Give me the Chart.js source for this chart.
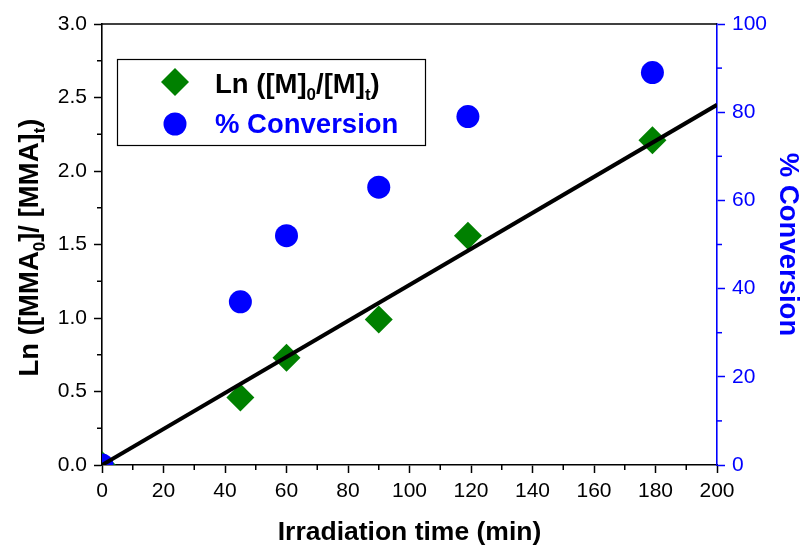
<!DOCTYPE html>
<html>
<head>
<meta charset="utf-8">
<script src="https://cdn.jsdelivr.net/npm/chart.js@4/dist/chart.umd.min.js"></script>
<style>
html,body{margin:0;padding:0;background:#fff;}
#wrap{width:807px;height:547px;}
</style>
</head>
<body>
<div id="wrap"><canvas id="c" width="807" height="547"></canvas></div>
<script>
// ---- data ----
const timeMin = [0, 45, 60, 90, 119, 179];
const lnRatio = [0, 0.46, 0.73, 0.99, 1.56, 2.21];
const conversionPct = [0, 37, 52, 63, 79, 89];
const fitTime = [0, 200];
const fitLn = [0, 2.45];
const xTicks = [0, 20, 40, 60, 80, 100, 120, 140, 160, 180, 200];
const yTicks = [0, 0.5, 1.0, 1.5, 2.0, 2.5, 3.0];
const y2Ticks = [0, 20, 40, 60, 80, 100];

const FONT = "'Liberation Sans', Arial, sans-serif";
const GREEN = '#008000';
const BLUE = '#0000FF';

function drawRich(ctx, parts, x, y, size, color, align) {
  const subSize = Math.round(size * 0.62);
  let total = 0;
  parts.forEach(p => {
    ctx.font = 'bold ' + (p[1] ? subSize : size) + 'px ' + FONT;
    total += ctx.measureText(p[0]).width;
  });
  let cx = align === 'center' ? x - total / 2 : x;
  ctx.fillStyle = color;
  ctx.textBaseline = 'alphabetic';
  ctx.textAlign = 'left';
  parts.forEach(p => {
    ctx.font = 'bold ' + (p[1] ? subSize : size) + 'px ' + FONT;
    ctx.fillText(p[0], cx, y + (p[1] ? size * 0.25 : 0));
    cx += ctx.measureText(p[0]).width;
  });
}

const decorPlugin = {
  id: 'decor',
  afterDraw(chart) {
    const ctx = chart.ctx;
    const a = chart.chartArea;
    const sx = chart.scales.x, sy = chart.scales.y, sy2 = chart.scales.y2;
    ctx.save();
    ctx.strokeStyle = '#000';
    ctx.lineWidth = 1.6;
    ctx.beginPath();
    ctx.moveTo(a.left, a.top);
    ctx.lineTo(a.right, a.top);
    ctx.stroke();
    ctx.lineWidth = 1.5;
    for (let i = 0; i < xTicks.length - 1; i++) {
      const v = (xTicks[i] + xTicks[i + 1]) / 2;
      const px = sx.getPixelForValue(v);
      ctx.beginPath(); ctx.moveTo(px, a.bottom); ctx.lineTo(px, a.bottom + 5); ctx.stroke();
    }
    for (let i = 0; i < yTicks.length - 1; i++) {
      const v = (yTicks[i] + yTicks[i + 1]) / 2;
      const py = sy.getPixelForValue(v);
      ctx.beginPath(); ctx.moveTo(a.left, py); ctx.lineTo(a.left - 5, py); ctx.stroke();
    }
    ctx.strokeStyle = BLUE;
    for (let i = 0; i < y2Ticks.length - 1; i++) {
      const v = (y2Ticks[i] + y2Ticks[i + 1]) / 2;
      const py = sy2.getPixelForValue(v);
      ctx.beginPath(); ctx.moveTo(a.right, py); ctx.lineTo(a.right + 5, py); ctx.stroke();
    }
    const midY = (a.top + a.bottom) / 2;
    drawRich(ctx, [['Irradiation time (min)', false]], (a.left + a.right) / 2, 540, 26.5, '#000', 'center');
    ctx.save();
    ctx.translate(38, midY + 3);
    ctx.rotate(-Math.PI / 2);
    drawRich(ctx, [['Ln ([MMA', false], ['0', true], [']/ [MMA]', false], ['t', true], [')', false]], 0, 0, 27.5, '#000', 'center');
    ctx.restore();
    ctx.save();
    ctx.translate(780, midY);
    ctx.rotate(Math.PI / 2);
    drawRich(ctx, [['% Conversion', false]], 0, 0, 27.5, BLUE, 'center');
    ctx.restore();
    // legend
    ctx.fillStyle = '#fff';
    ctx.fillRect(117, 59, 309, 87);
    ctx.strokeStyle = '#000';
    ctx.lineWidth = 1.2;
    ctx.strokeRect(117.5, 59.5, 308, 86);
    ctx.fillStyle = GREEN;
    ctx.beginPath();
    ctx.moveTo(175, 82 - 14); ctx.lineTo(175 + 14, 82); ctx.lineTo(175, 82 + 14); ctx.lineTo(175 - 14, 82); ctx.closePath();
    ctx.fill();
    ctx.fillStyle = BLUE;
    ctx.beginPath(); ctx.arc(175, 124, 11.5, 0, Math.PI * 2); ctx.fill();
    drawRich(ctx, [['Ln ([M]', false], ['0', true], ['/[M]', false], ['t', true], [')', false]], 215, 93, 27.5, '#000', 'left');
    drawRich(ctx, [['% Conversion', false]], 215, 133, 27.5, BLUE, 'left');
    ctx.restore();
  }
};

new Chart(document.getElementById('c'), {
  type: 'scatter',
  data: {
    datasets: [
      {
        label: 'fit',
        type: 'line',
        data: fitTime.map((t, i) => ({ x: t, y: fitLn[i] })),
        borderColor: '#000',
        borderWidth: 4,
        pointRadius: 0,
        fill: false,
        yAxisID: 'y',
        order: 0,
        clip: 0
      },
      {
        label: '% Conversion',
        data: timeMin.map((t, i) => ({ x: t, y: conversionPct[i] })),
        backgroundColor: BLUE,
        borderWidth: 0,
        pointStyle: 'circle',
        pointRadius: 11.5,
        yAxisID: 'y2',
        order: 1,
        clip: 0
      },
      {
        label: 'Ln ([M]0/[M]t)',
        data: timeMin.map((t, i) => ({ x: t, y: lnRatio[i] })),
        backgroundColor: GREEN,
        borderWidth: 0,
        pointStyle: 'rectRot',
        pointRadius: 14,
        yAxisID: 'y',
        order: 2,
        clip: 0
      }
    ]
  },
  options: {
    responsive: false,
    animation: false,
    layout: { padding: { top: 24, left: 0, right: 0, bottom: 0 } },
    plugins: { legend: { display: false }, tooltip: { enabled: false } },
    scales: {
      x: {
        type: 'linear', min: 0, max: 200,
        afterBuildTicks: s => { s.ticks = xTicks.map(v => ({ value: v })); },
        afterFit: s => { s.height = 82; },
        ticks: { color: '#000', font: { family: FONT, size: 21 }, padding: 6, maxRotation: 0, autoSkip: false },
        grid: { drawOnChartArea: false, drawTicks: true, tickLength: 8, tickWidth: 1.5, color: '#000' },
        border: { display: true, color: '#000', width: 1.6 }
      },
      y: {
        type: 'linear', position: 'left', min: 0, max: 3,
        afterBuildTicks: s => { s.ticks = yTicks.map(v => ({ value: v })); },
        afterFit: s => { s.width = 102; },
        ticks: { color: '#000', font: { family: FONT, size: 21 }, padding: 7, callback: v => Number(v).toFixed(1) },
        grid: { drawOnChartArea: false, drawTicks: true, tickLength: 8, tickWidth: 1.5, color: '#000' },
        border: { display: true, color: '#000', width: 1.6 }
      },
      y2: {
        type: 'linear', position: 'right', min: 0, max: 100,
        afterBuildTicks: s => { s.ticks = y2Ticks.map(v => ({ value: v })); },
        afterFit: s => { s.width = 90; },
        ticks: { color: BLUE, font: { family: FONT, size: 21 }, padding: 7 },
        grid: { drawOnChartArea: false, drawTicks: true, tickLength: 8, tickWidth: 1.5, color: BLUE },
        border: { display: true, color: BLUE, width: 1.6 }
      }
    }
  },
  plugins: [decorPlugin]
});
</script>
</body>
</html>
